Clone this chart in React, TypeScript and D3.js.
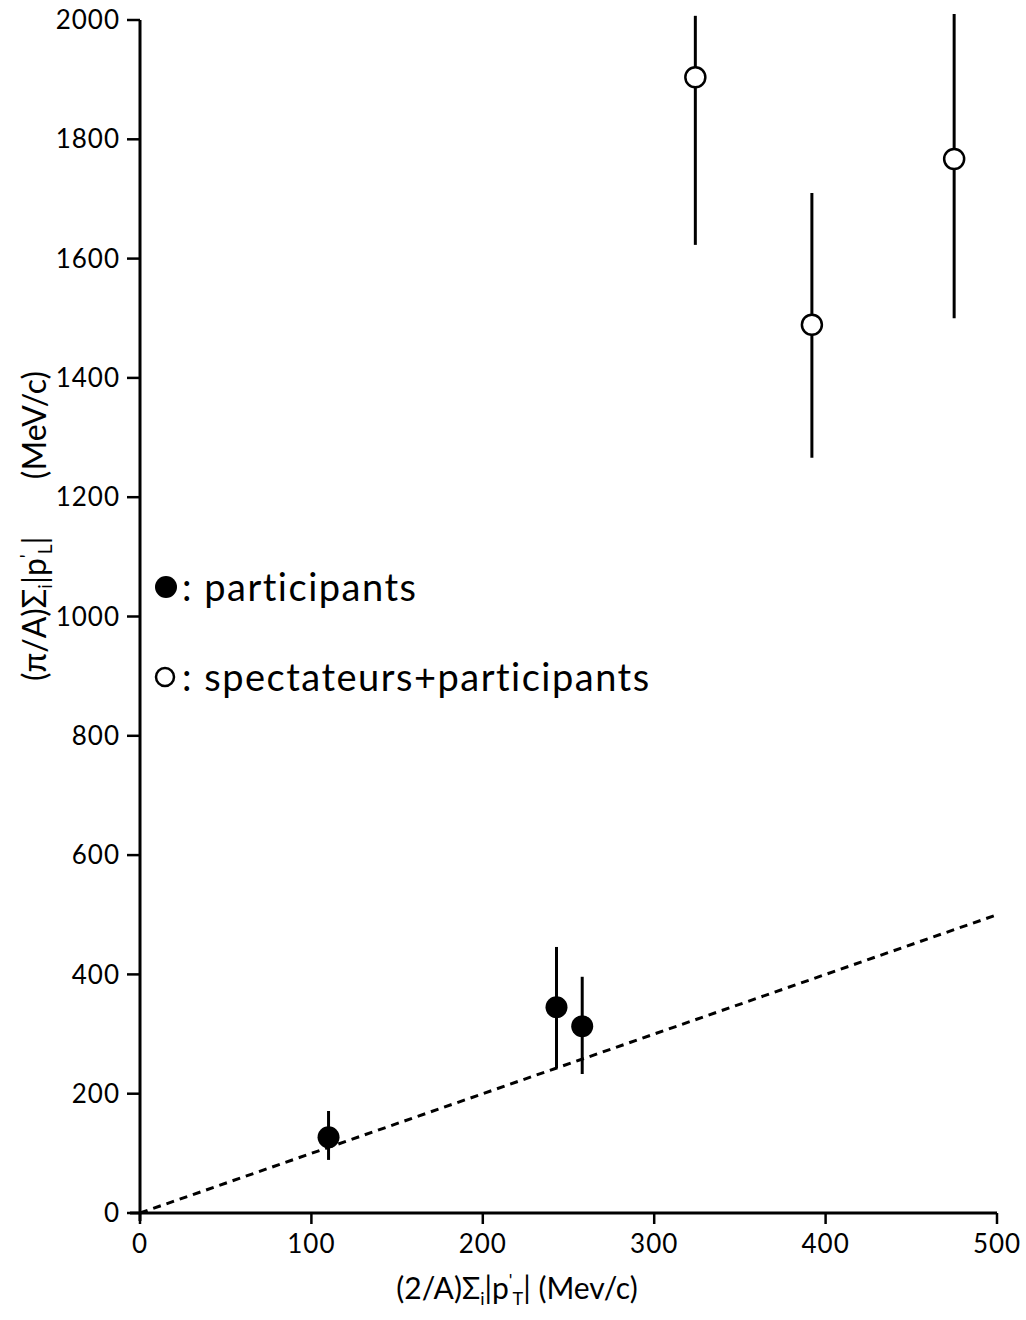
import React from 'react';
import { scaleLinear, line } from 'd3';

// participants (filled)
const partX = [110, 243, 258];
const partY = [127, 345, 313];
const partLo = [89, 243, 233];
const partHi = [171, 446, 396];

// spectateurs + participants (open)
const specX = [324, 392, 475];
const specY = [1904, 1489, 1767];
const specLo = [1623, 1266, 1500];
const specHi = [2007, 1710, 2010];

const xTicks = [0, 100, 200, 300, 400, 500];
const yTicks = [0, 200, 400, 600, 800, 1000, 1200, 1400, 1600, 1800, 2000];
const fitLine = [0, 500];

const App = () => {
  const width = 1026;
  const height = 1320;
  const x = scaleLinear().domain([0, 500]).range([140, 997]);
  const y = scaleLinear().domain([0, 2000]).range([1213, 20]);
  const font = 'Lato, "Liberation Sans", sans-serif';

  const fit = line<number>()
    .x((d) => x(d))
    .y((d) => y(d));

  return (
    <svg
      width={width}
      height={height}
      style={{ position: 'absolute', left: 0, top: 0, background: '#fff' }}
      fontFamily={font}
    >
      {/* axes */}
      <line x1={x(0)} x2={x(0)} y1={y(2000)} y2={y(0) + 8} stroke="#000" strokeWidth={3} />
      <line x1={x(0) - 10} x2={x(500)} y1={y(0)} y2={y(0)} stroke="#000" strokeWidth={3} />
      {yTicks.map((t) => (
        <g key={'y' + t}>
          <line x1={x(0) - 13} x2={x(0)} y1={y(t)} y2={y(t)} stroke="#000" strokeWidth={2.5} />
          <text x={x(0) - 20} y={y(t)} dy="0.35em" textAnchor="end" fontSize={26} letterSpacing={1}>
            {t}
          </text>
        </g>
      ))}
      {xTicks.map((t) => (
        <g key={'x' + t}>
          <line x1={x(t)} x2={x(t)} y1={y(0)} y2={y(0) + 11} stroke="#000" strokeWidth={2.5} />
          <text x={x(t)} y={y(0) + 40} textAnchor="middle" fontSize={26} letterSpacing={1}>
            {t}
          </text>
        </g>
      ))}

      {/* fit line */}
      <path d={fit(fitLine) || ''} fill="none" stroke="#000" strokeWidth={3} strokeDasharray="8 6" />

      {/* participants */}
      {partX.map((d, i) => (
        <g key={'p' + i}>
          <line x1={x(d)} x2={x(d)} y1={y(partLo[i])} y2={y(partHi[i])} stroke="#000" strokeWidth={3} />
          <circle cx={x(d)} cy={y(partY[i])} r={11} fill="#000" />
        </g>
      ))}

      {/* spectateurs + participants */}
      {specX.map((d, i) => (
        <g key={'s' + i}>
          <line x1={x(d)} x2={x(d)} y1={y(specLo[i])} y2={y(specHi[i])} stroke="#000" strokeWidth={3} />
          <circle cx={x(d)} cy={y(specY[i])} r={10} fill="#fff" stroke="#000" strokeWidth={2.5} />
        </g>
      ))}

      {/* legend */}
      <circle cx={166} cy={587} r={11} fill="#000" />
      <text x={182} y={601} fontSize={38} letterSpacing={1.5}>
        : participants
      </text>
      <circle cx={165} cy={677} r={9} fill="none" stroke="#000" strokeWidth={2.5} />
      <text x={182} y={691} fontSize={38} letterSpacing={1.5}>
        : spectateurs+participants
      </text>

      {/* axis titles */}
      <text x={517} y={1299} textAnchor="middle" fontSize={30}>
        (2/A)Σ
        <tspan fontSize={18} dy={6}>i</tspan>
        <tspan dy={-6}>|p</tspan>
        <tspan fontSize={18} dy={-12}>'</tspan>
        <tspan fontSize={18} dy={18}>T</tspan>
        <tspan dy={-6}>| (Mev/c)</tspan>
      </text>
      <text transform="translate(46,526) rotate(-90)" textAnchor="middle" fontSize={32}>
        (π/A)Σ
        <tspan fontSize={19} dy={6}>i</tspan>
        <tspan dy={-6}>|p</tspan>
        <tspan fontSize={19} dy={-12}>'</tspan>
        <tspan fontSize={19} dy={18}>L</tspan>
        <tspan dy={-6}>|{'\u00a0\u00a0\u00a0\u00a0\u00a0\u00a0\u00a0'}(MeV/c)</tspan>
      </text>
    </svg>
  );
};

export default App;
